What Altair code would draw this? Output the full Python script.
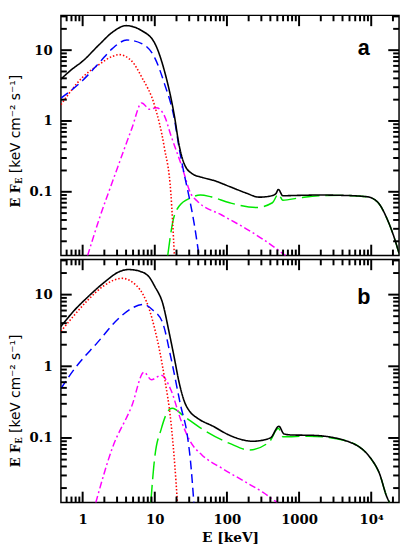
import math
import altair as alt
import pandas as pd

# ---------------- data ----------------
a_black_E = [0.5, 0.7, 1.0, 1.7, 2.6, 4.0, 6.5, 10, 13.6, 18.7, 21.7, 25.5, 33, 45, 65, 110, 180, 281, 420, 480, 516, 596, 1000, 1842, 4000, 8800, 12500, 16500, 21000, 24300]
a_black_F = [3.9, 5.3, 7.0, 12.0, 18.0, 22.2, 19.0, 12.5, 5.1, 1.18, 0.46, 0.25, 0.18, 0.16, 0.145, 0.118, 0.097, 0.084, 0.088, 0.095, 0.108, 0.088, 0.089, 0.09, 0.089, 0.085, 0.07, 0.042, 0.022, 0.0135]
a_blue_E = [0.5, 1.0, 1.7, 2.6, 4.1, 6.6, 10, 13.6, 18.7, 21.8, 25.5, 29.8, 34.9, 41]
a_blue_F = [2.1, 3.74, 6.65, 10.6, 13.9, 12.4, 7.8, 3.37, 1.06, 0.41, 0.18, 0.086, 0.037, 0.0125]
a_red_E = [0.5, 1.0, 1.7, 2.6, 3.2, 4.8, 6.6, 10, 13.6, 16.7, 18.7]
a_red_F = [1.7, 4.15, 6.3, 8.2, 8.65, 7.0, 4.15, 1.62, 0.415, 0.095, 0.0125]
a_mag_E = [1.17, 1.7, 2.84, 4.8, 6.6, 8.5, 10.5, 13.6, 16.7, 24, 31.4, 38.7, 84.5, 185, 313, 650]
a_mag_F = [0.0125, 0.0415, 0.18, 0.78, 1.8, 1.46, 1.54, 1.18, 0.63, 0.22, 0.095, 0.074, 0.047, 0.03, 0.0215, 0.0125]
a_green_E = [15.1, 17.7, 21.8, 31.4, 42.8, 60, 109, 254, 427, 516, 596, 1000, 1842, 4000, 8800, 12500, 16500, 21000, 24300]
a_green_F = [0.0125, 0.037, 0.063, 0.082, 0.09, 0.085, 0.07, 0.06, 0.07, 0.093, 0.076, 0.082, 0.088, 0.089, 0.085, 0.07, 0.042, 0.022, 0.0135]

b_black_E = [0.5, 0.77, 1.17, 1.97, 3.33, 4.3, 6.2, 8.5, 10, 12.9, 16, 18.6, 21.7, 25.5, 31, 38.7, 65, 109, 228, 400, 525, 617, 800, 1490, 4200, 9850, 13000, 16500, 18000]
b_black_F = [3.6, 6.06, 9.2, 14.7, 21.2, 22.4, 21.2, 17.2, 13.0, 7.5, 2.8, 1.33, 0.6, 0.33, 0.23, 0.19, 0.145, 0.109, 0.09, 0.1, 0.146, 0.114, 0.11, 0.109, 0.093, 0.052, 0.032, 0.015, 0.0125]
b_red_E = [0.5, 0.77, 1.17, 1.97, 3.5, 5.6, 8.5, 10, 11.6, 13.6, 16.7, 19, 20.6]
b_red_F = [3.07, 5.2, 8.3, 13.3, 16.9, 13.3, 6.0, 3.3, 1.7, 0.7, 0.17, 0.04, 0.0125]
b_blue_E = [0.5, 0.77, 1.6, 3.33, 5.0, 6.9, 9.45, 12.9, 16.7, 22.9, 28.2, 31.3, 34.8]
b_blue_F = [0.49, 0.92, 2.14, 4.9, 6.6, 7.3, 6.05, 4.0, 1.33, 0.28, 0.11, 0.047, 0.0125]
b_mag_E = [1.52, 2.56, 4.8, 7.1, 8.95, 12.3, 16.7, 22.9, 31.3, 45, 84.5, 185, 313, 500]
b_mag_F = [0.0125, 0.071, 0.28, 0.83, 0.65, 0.75, 0.47, 0.18, 0.088, 0.058, 0.038, 0.024, 0.0175, 0.0125]
b_green_E = [8.8, 9.95, 12.3, 15.9, 17.5, 25.5, 45, 109, 205, 385, 516, 596, 1350, 4200, 9850, 13000, 16500, 18000]
b_green_F = [0.0125, 0.052, 0.134, 0.25, 0.26, 0.2, 0.134, 0.084, 0.068, 0.088, 0.137, 0.104, 0.106, 0.093, 0.052, 0.032, 0.015, 0.0125]

# tick values
x_major = [1, 10, 100, 1000, 10000]
x_minor = [0.6, 0.7, 0.8, 0.9, 2, 3, 4, 5, 6, 7, 8, 9, 20, 30, 40, 50, 60, 70, 80, 90,
           200, 300, 400, 500, 600, 700, 800, 900, 2000, 3000, 4000, 5000, 6000, 7000, 8000, 9000, 20000]
y_major = [0.1, 1, 10]
y_minor = [0.02, 0.03, 0.04, 0.05, 0.06, 0.07, 0.08, 0.09, 0.2, 0.3, 0.4, 0.5, 0.6, 0.7, 0.8, 0.9,
           2, 3, 4, 5, 6, 7, 8, 9, 20, 30]

panel_labels = ["a", "b"]
y_title_parts = ["E F", "E", "[keV cm\u207b\u00b2 s\u207b\u00b9]"]
x_title = "E [keV]"

# ---------------- layout / style ----------------
W = 345
HA, HB = 245, 248
XDOM = [0.5, 24300]
YDOM = [0.0126, 31]
SERIF = "DejaVu Serif"
SANS = "DejaVu Sans"

xscale = alt.Scale(type="log", domain=XDOM, nice=False)
yscale = alt.Scale(type="log", domain=YDOM, nice=False)

YAX = alt.Axis(values=y_major, labelExpr="datum.value < 1 ? '0.1' : format(datum.value, 'd')",
               ticks=False, domain=False, grid=False, title=None, labelFont=SERIF,
               labelFontSize=13.5, labelFontWeight="bold", labelColor="black", labelPadding=9)


def xaxis(show):
    if not show:
        return None
    return alt.Axis(values=x_major,
                    labelExpr="datum.value == 10000 ? '10\u2074' : format(datum.value, 'd')",
                    ticks=False, domain=False, grid=False, title=x_title,
                    labelFont=SERIF, labelFontSize=13.5, labelFontWeight="bold", labelColor="black",
                    labelPadding=10, labelFlush=False,
                    titleFont=SERIF, titleFontSize=14, titleFontWeight="bold", titleColor="black",
                    titlePadding=5)


def series(E, F, color, dash, width, show_x):
    df = pd.DataFrame({"E": E, "F": F})
    return alt.Chart(df).mark_line(color=color, strokeDash=dash, strokeWidth=width,
                                   clip=True, interpolate="monotone").encode(
        x=alt.X("E:Q", scale=xscale, axis=xaxis(show_x)),
        y=alt.Y("F:Q", scale=yscale, axis=YAX),
    )


def tick_layers(H, show_x):
    # inward frame ticks; tick length in px converted through the log scales
    ydec = H / math.log10(YDOM[1] / YDOM[0])
    xdec = W / math.log10(XDOM[1] / XDOM[0])
    out = []
    for vals, L in ((x_major, 11), (x_minor, 6)):
        f = 10 ** (L / ydec)
        df = pd.DataFrame({"v": vals, "b0": [YDOM[0]] * len(vals), "b1": [YDOM[0] * f] * len(vals),
                           "t0": [YDOM[1]] * len(vals), "t1": [YDOM[1] / f] * len(vals)})
        base = alt.Chart(df).mark_rule(color="#000000", strokeWidth=2)
        for a, b in (("b0", "b1"), ("t0", "t1")):
            out.append(base.encode(x=alt.X("v:Q", scale=xscale, axis=xaxis(show_x)),
                                   y=alt.Y(a + ":Q", scale=yscale, axis=YAX), y2=b + ":Q"))
    for vals, L in ((y_major, 11), (y_minor, 6)):
        f = 10 ** (L / xdec)
        df = pd.DataFrame({"v": vals, "l0": [XDOM[0]] * len(vals), "l1": [XDOM[0] * f] * len(vals),
                           "r0": [XDOM[1]] * len(vals), "r1": [XDOM[1] / f] * len(vals)})
        base = alt.Chart(df).mark_rule(color="#000000", strokeWidth=2)
        for a, b in (("l0", "l1"), ("r0", "r1")):
            out.append(base.encode(y=alt.Y("v:Q", scale=yscale, axis=YAX),
                                   x=alt.X(a + ":Q", scale=xscale, axis=xaxis(show_x)), x2=b + ":Q"))
    return out


def text_layer(txt, x, y, font, size, weight="bold", angle=0, align="center", baseline="alphabetic"):
    df = pd.DataFrame({"t": [txt]})
    return alt.Chart(df).mark_text(font=font, fontSize=size, fontWeight=weight, angle=angle,
                                   align=align, baseline=baseline, color="black").encode(
        text="t:N", x=alt.value(x), y=alt.value(y))


def panel(data, H, label, label_y, title_start, show_x):
    (kE, kF), (bE, bF), (rE, rF), (mE, mF), (gE, gF) = data
    layers = [
        series(gE, gF, "#00e800", [18, 6], 1.5, show_x),
        series(mE, mF, "#ff00ff", [7, 3, 2, 3], 1.5, show_x),
        series(rE, rF, "#ff0000", [1.5, 2], 1.6, show_x),
        series(bE, bF, "#0000ff", [9, 5], 1.5, show_x),
        series(kE, kF, "#000000", [1, 0], 1.6, show_x),
    ]
    layers += tick_layers(H, show_x)
    layers.append(text_layer(label, 309, label_y, "Liberation Sans", 22))
    tx = -46
    layers.append(text_layer(y_title_parts[0], tx, title_start, SERIF, 13, angle=270,
                             align="left", baseline="middle"))
    layers.append(text_layer(y_title_parts[1], tx + 3.5, title_start - 24, SERIF, 8.5, angle=270,
                             align="left", baseline="middle"))
    layers.append(text_layer(y_title_parts[2], tx, title_start - 35, SANS, 14, weight="normal",
                             angle=270, align="left", baseline="middle"))
    return alt.layer(*layers).properties(width=W, height=H)


pa = panel([(a_black_E, a_black_F), (a_blue_E, a_blue_F), (a_red_E, a_red_F),
            (a_mag_E, a_mag_F), (a_green_E, a_green_F)], HA, panel_labels[0], 40, 196, False)
pb = panel([(b_black_E, b_black_F), (b_blue_E, b_blue_F), (b_red_E, b_red_F),
            (b_mag_E, b_mag_F), (b_green_E, b_green_F)], HB, panel_labels[1], 45, 212, True)

chart = alt.vconcat(pa, pb, spacing=0).properties(
    padding={"left": 0, "top": 0, "right": 0, "bottom": 0}
).configure_view(stroke="black", strokeWidth=1.5)

chart.save("out.html", embed_options={"renderer": "svg", "actions": False})
